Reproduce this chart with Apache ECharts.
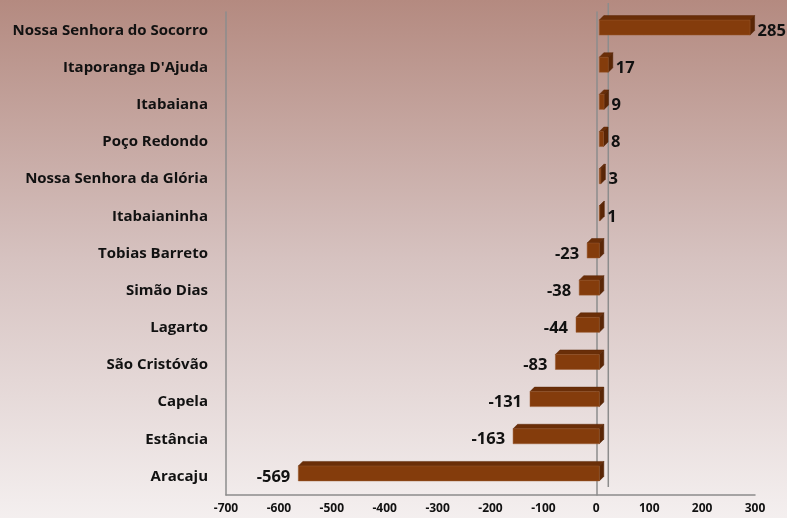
<!DOCTYPE html>
<html>
<head>
<meta charset="utf-8">
<script src="https://cdn.jsdelivr.net/npm/echarts@6/dist/echarts.min.js"></script>
<style>
html,body{margin:0;padding:0;}
#c{width:787px;height:518px;}
</style>
</head>
<body>
<div id="c"></div>
<script>
const categories = ["Nossa Senhora do Socorro","Itaporanga D'Ajuda","Itabaiana","Poço Redondo","Nossa Senhora da Glória","Itabaianinha","Tobias Barreto","Simão Dias","Lagarto","São Cristóvão","Capela","Estância","Aracaju"];
const values = [285, 17, 9, 8, 3, 1, -23, -38, -44, -83, -131, -163, -569];
const xTicks = {min: -700, max: 300, interval: 100};

const FONT = '"Open Sans", Lato, sans-serif';
const chart = echarts.init(document.getElementById('c'), null, {renderer: 'canvas'});

function renderBar(params, api) {
  const v = api.value(0);
  const i = api.value(1);
  const p0 = api.coord([0, i]);
  const p1 = api.coord([v, i]);
  const dx = 3, d = 4.5, h = 15;
  const cy = p0[1] - 3;
  const xl = Math.min(p0[0], p1[0]) + dx;
  const xr = Math.max(p0[0], p1[0]) + dx;
  const yt = cy - h / 2, yb = cy + h / 2;
  const children = [
    {type: 'polygon', shape: {points: [[xl, yt], [xr, yt], [xr + d, yt - d], [xl + d, yt - d]]},
     style: {fill: '#6A2E08', stroke: '#5a2706', lineWidth: 0.5}},
    {type: 'polygon', shape: {points: [[xr, yt], [xr + d, yt - d], [xr + d, yb - d], [xr, yb]]},
     style: {fill: '#5A2606', stroke: '#4e2105', lineWidth: 0.5}},
    {type: 'rect', shape: {x: xl, y: yt, width: xr - xl, height: h},
     style: {fill: '#843C0C', stroke: '#9a5a30', lineWidth: 0.5}},
    {type: 'text', style: {
      text: String(v),
      x: v >= 0 ? xr + d + 3 : xl - 8,
      y: p0[1] + 0.5,
      align: v >= 0 ? 'left' : 'right',
      verticalAlign: 'middle',
      fontFamily: FONT, fontWeight: 'bold', fontSize: 16.5, fill: '#111'
    }}
  ];
  return {type: 'group', children: children};
}

const option = {
  backgroundColor: new echarts.graphic.LinearGradient(0, 0, 0, 1, [
    {offset: 0, color: '#B48A80'},
    {offset: 0.5, color: '#D6C2C0'},
    {offset: 1, color: '#F4EFEF'}
  ]),
  animation: false,
  grid: {left: 226, right: 32, top: 12, bottom: 23},
  xAxis: {
    type: 'value', min: xTicks.min, max: xTicks.max, interval: xTicks.interval,
    axisLine: {show: true, lineStyle: {color: '#8c8c8c', width: 1.5}},
    axisTick: {show: false},
    splitLine: {show: false},
    axisLabel: {color: '#111', fontFamily: FONT, fontWeight: 'bold', fontSize: 12, margin: 8}
  },
  yAxis: [{
    type: 'category', data: categories, inverse: true,
    axisLine: {show: true, onZero: true, lineStyle: {color: '#8c8c8c', width: 1.5}},
    axisTick: {show: false},
    axisLabel: {show: false}
  }, {
    type: 'category', data: categories, inverse: true, position: 'left',
    axisLine: {show: true, onZero: false, lineStyle: {color: '#8c8c8c', width: 1.5}},
    axisTick: {show: false},
    axisLabel: {color: '#111', fontFamily: FONT, fontWeight: 'bold', fontSize: 15, margin: 18}
  }],
  series: [{
    type: 'custom',
    renderItem: renderBar,
    encode: {x: 0, y: 1},
    data: values.map((v, i) => [v, i]),
    z: 3
  }]
};
chart.setOption(option);

// back-wall line of the 3D frame, placed relative to the zero position
const z0 = chart.convertToPixel({xAxisIndex: 0}, 0);
chart.setOption({
  graphic: [{
    type: 'line', z: 1,
    shape: {x1: z0 + 12, y1: 3, x2: z0 + 12, y2: 487},
    style: {stroke: '#8c8c8c', lineWidth: 1.5}
  }]
});
</script>
</body>
</html>
